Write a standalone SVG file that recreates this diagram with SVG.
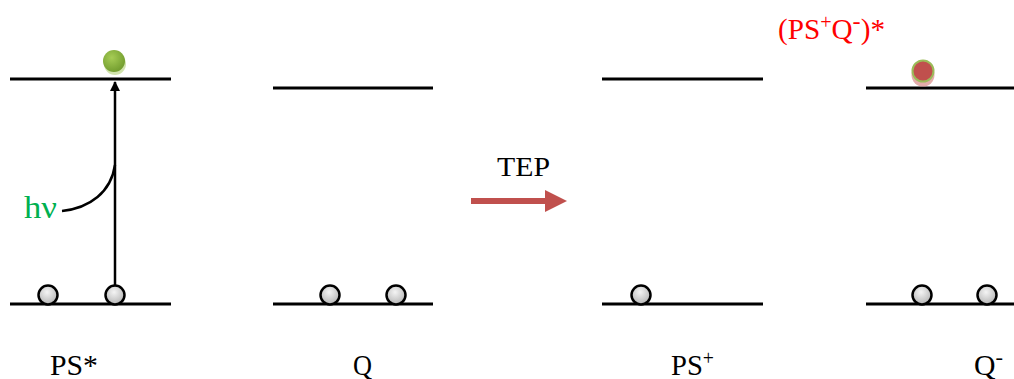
<svg xmlns="http://www.w3.org/2000/svg" width="1014" height="379" viewBox="0 0 1014 379">
<style>
.lvl{stroke:#000;stroke-width:3;fill:none}
.e{stroke:#000;stroke-width:2.5;fill:url(#grey)}
.lab{font-family:"Liberation Serif","Times New Roman",serif;fill:#000}
</style>
<defs>
<radialGradient id="grey" cx="0.45" cy="0.35" r="0.7">
<stop offset="0" stop-color="#f4f4f4"/>
<stop offset="1" stop-color="#b0b0b0"/>
</radialGradient>
<radialGradient id="green" cx="0.4" cy="0.35" r="0.7">
<stop offset="0" stop-color="#a6cc55"/>
<stop offset="1" stop-color="#6f9a2c"/>
</radialGradient>
<marker id="ah" viewBox="0 0 10 10" refX="9" refY="5" markerWidth="4" markerHeight="4" orient="auto" markerUnits="strokeWidth">
<path d="M0,0 L10,5 L0,10 z" fill="#000"/>
</marker>
</defs>

<g id="ps-star">
<line class="lvl" x1="10" y1="79" x2="171" y2="79"/>
<line class="lvl" x1="10" y1="304" x2="171" y2="304"/>
<circle class="e" cx="48" cy="295" r="9.5"/>
<circle class="e" cx="115" cy="295" r="9.5"/>
<circle cx="115" cy="64" r="11" fill="#c5dc98" opacity="0.8"/>
<circle cx="114" cy="61" r="11" fill="url(#green)"/>
<text class="lab" x="50" y="375" font-size="29" textLength="48" lengthAdjust="spacingAndGlyphs">PS*</text>
</g>

<g id="q">
<line class="lvl" x1="273" y1="88" x2="433" y2="88"/>
<line class="lvl" x1="273" y1="304" x2="433" y2="304"/>
<circle class="e" cx="330" cy="295" r="9.5"/>
<circle class="e" cx="396" cy="295" r="9.5"/>
<text class="lab" x="353" y="375" font-size="29" textLength="19" lengthAdjust="spacingAndGlyphs">Q</text>
</g>

<g id="ps-plus">
<line class="lvl" x1="602" y1="79" x2="763" y2="79"/>
<line class="lvl" x1="602" y1="304" x2="763" y2="304"/>
<circle class="e" cx="641" cy="295" r="9.5"/>
<text class="lab" x="671" y="375" font-size="29" textLength="43" lengthAdjust="spacingAndGlyphs">PS<tspan font-size="20" dy="-10">+</tspan></text>
</g>

<g id="q-minus">
<line class="lvl" x1="866" y1="88" x2="1014" y2="88"/>
<line class="lvl" x1="866" y1="304" x2="1014" y2="304"/>
<circle class="e" cx="922" cy="295" r="9.5"/>
<circle class="e" cx="987" cy="295" r="9.5"/>
<circle cx="923" cy="75" r="11.5" fill="#d98a88" opacity="0.7"/>
<circle cx="923" cy="71" r="10.5" fill="#c0504d" stroke="#9bbb59" stroke-width="2"/>
<text class="lab" x="974" y="375" font-size="29" textLength="29" lengthAdjust="spacingAndGlyphs">Q<tspan font-size="22" dy="-11">-</tspan></text>
<text class="lab" x="778" y="39" font-size="29" style="fill:#ff0000" textLength="107" lengthAdjust="spacingAndGlyphs">(PS<tspan font-size="20" dy="-10">+</tspan><tspan dy="10">Q</tspan><tspan font-size="24" dy="-10">-</tspan><tspan dy="10">)*</tspan></text>
</g>

<g id="connectors">
<line x1="115" y1="285" x2="115" y2="82" stroke="#000" stroke-width="2.5" marker-end="url(#ah)"/>
<path d="M62,211 C90,208 111,192 115,165" fill="none" stroke="#000" stroke-width="2.5"/>
<text x="24" y="218" font-family="Liberation Serif,serif" font-size="31" fill="#00b050" textLength="33" lengthAdjust="spacingAndGlyphs">hν</text>
<line x1="471" y1="201" x2="552" y2="201" stroke="#c0504d" stroke-width="6"/>
<path d="M545,190 L567,201 L545,212 z" fill="#c0504d"/>
<text class="lab" x="497" y="176" font-size="27" textLength="53" lengthAdjust="spacingAndGlyphs">TEP</text>
</g>
</svg>
